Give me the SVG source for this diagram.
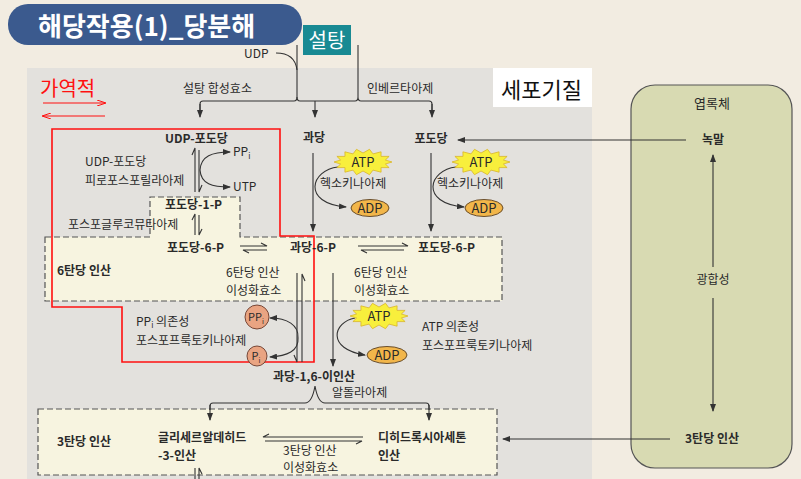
<svg xmlns="http://www.w3.org/2000/svg" width="801" height="479" viewBox="0 0 801 479">
<style>
text{font-family:"Noto Sans CJK KR","Noto Sans",sans-serif;fill:#2a2a2a;font-size:12px}
.b{font-weight:bold}
.c{text-anchor:middle}
.ln{fill:none;stroke:#333;stroke-width:1.1}
.arr{fill:none;stroke:#333;stroke-width:1.1;marker-end:url(#ah)}
.dash{fill:#f7f4e0;stroke:#555;stroke-width:1.2;stroke-dasharray:6 3}
.red{fill:none;stroke:#ff1010;stroke-width:1.6}
.star{fill:#f8ef3c;stroke:#d9b52a;stroke-width:0.8}
.adp{fill:#f2b64a;stroke:#5a4020;stroke-width:0.9}
.pc{fill:#e9a482;stroke:#6a3a2a;stroke-width:0.9}
</style>
<defs>
<marker id="ah" markerWidth="8" markerHeight="6" refX="7" refY="3" orient="auto" markerUnits="userSpaceOnUse"><path d="M0,0 L8,3 L0,6 z" fill="#333"/></marker>
<marker id="rh" markerWidth="9" markerHeight="6" refX="8" refY="3" orient="auto" markerUnits="userSpaceOnUse"><path d="M0,0 L9,3 L0,6" fill="none" stroke="#ff1010" stroke-width="1"/></marker>
<polygon id="starburst" class="star" points="29,0 22.4,2 26.1,5.6 18,5.6 18.1,10.2 10,8.1 6.5,12.7 0,9 -6.5,12.7 -10,8.1 -18.1,10.2 -18,5.6 -26.1,5.6 -22.4,2 -29,0 -22.4,-2 -26.1,-5.6 -18,-5.6 -18.1,-10.2 -10,-8.1 -6.5,-12.7 0,-9 6.5,-12.7 10,-8.1 18.1,-10.2 18,-5.6 26.1,-5.6 22.4,-2"/>
</defs>

<!-- background -->
<rect x="0" y="0" width="801" height="479" fill="#f2ece1"/>
<rect x="27" y="68" width="565" height="411" fill="#e3e1dd"/>

<!-- title -->
<g id="title">
<rect x="8" y="4" width="294" height="41" rx="20" fill="#3b5a8e"/>
<text x="38" y="36" style="font-size:26px;font-weight:bold;fill:#fff">해당작용(1)_당분해</text>
</g>
<g id="sucrose">
<rect x="303" y="25" width="48" height="30" fill="#198a93"/>
<text x="327" y="48" class="c" style="font-size:20px;fill:#fff">설탕</text>
</g>
<g id="cytosol-label">
<rect x="493" y="68" width="99" height="39" fill="#fff"/>
<text x="501" y="98" style="font-size:22px;fill:#111">세포기질</text>
</g>
<g id="reversible">
<text x="40" y="96" style="font-size:20px;fill:#ff1010">가역적</text>
<line x1="43" y1="103" x2="105" y2="103" stroke="#ff1010" stroke-width="1.2" marker-end="url(#rh)"/>
<line x1="105" y1="116" x2="43" y2="116" stroke="#ff1010" stroke-width="1.2" marker-end="url(#rh)"/>
</g>

<!-- boxes -->
<g id="hexose-box">
<path class="dash" d="M45,237 L150,237 L150,197 L240,197 L240,237 L502,237 L502,301 L45,301 Z"/>
<text x="57" y="275" class="b">6탄당 인산</text>
</g>
<g id="triose-box">
<rect class="dash" x="38" y="409" width="459" height="66"/>
<text x="57" y="446" class="b">3탄당 인산</text>
</g>
<g id="chloroplast">
<rect x="631" y="85" width="161" height="383" rx="24" fill="#d8dab2" stroke="#555" stroke-width="1.2"/>
<text x="712" y="108" class="c" style="font-size:13px">엽록체</text>
<text x="713" y="284" class="c">광합성</text>
</g>

<!-- red reversible region -->
<path class="red" d="M52,129 L280,129 L280,236 L314,236 L314,362 L122,362 L122,307 L52,307 Z"/>

<!-- connectors -->
<g id="connectors">
<path class="ln" d="M276,53 Q295,53 297,70"/>
<path class="ln" d="M297,45 L297,97"/>
<path class="ln" d="M358,45 L358,97"/>
<path class="ln" d="M297,97 Q297,101 300,101 L355,101 Q358,101 358,97 Q358,101 361,101 L429,101 Q432,101 432,104 L432,110"/>
<path class="ln" d="M297,97 Q297,101 294,101 L203,101 Q200,101 200,104 L200,110"/>
<path class="arr" d="M200,104 L200,117"/>
<path class="arr" d="M315,101 L315,117"/>
<path class="arr" d="M432,104 L432,117"/>

<!-- UDP-glucose eq -->
<path class="ln" d="M195,192 L195,148 L192,155"/>
<path class="ln" d="M199,150 L199,192 L202,185"/>
<path class="arr" d="M200,170 C201,156 212,152 230,152"/>
<path class="arr" d="M200,170 C201,184 212,187 230,187"/>
<!-- G1P -> G6P -->
<path class="ln" d="M195,235 L195,214 L192,220"/>
<path class="ln" d="M199,215 L199,235 L202,229"/>

<!-- fructose / glucose down -->
<path class="arr" d="M313,153 L313,231"/>
<path class="arr" d="M431,153 L431,231"/>
<path class="arr" d="M338,167 C311,170 301,203 346,207"/>
<path class="arr" d="M456,167 C429,170 419,203 464,207"/>

<!-- G6P eq F6P -->
<path class="ln" d="M240,246 L267,246 L261,243"/>
<path class="ln" d="M267,250 L243,250 L249,253"/>
<path class="ln" d="M358,246 L408,246 L402,243"/>
<path class="ln" d="M404,250 L361,250 L367,253"/>

<!-- F6P <-> F1,6BP (PPi) -->
<path class="ln" d="M297,273 L297,362 L294,355"/>
<path class="ln" d="M302,362 L302,274 L305,281"/>
<path class="arr" d="M298,338 C299,325 287,318 270,318"/>
<path class="arr" d="M298,338 C299,351 287,356 270,357"/>
<!-- PFK ATP -->
<path class="arr" d="M333,273 L333,366"/>
<path class="arr" d="M355,318 C333,322 326,349 365,355"/>

<!-- aldolase split -->
<path class="ln" d="M210,410 L210,406 Q210,403 213,403 L305,403 Q312,403 315,386 Q318,403 325,403 L426,403 Q429,403 429,406 L429,410"/>
<path class="arr" d="M210,405 L210,420"/>
<path class="arr" d="M429,405 L429,420"/>

<!-- triose eq -->
<path class="ln" d="M363,437 L263,437 L269,434"/>
<path class="ln" d="M265,441 L362,441 L356,444"/>
<path class="ln" d="M195,479 L195,468"/>
<path class="ln" d="M199,479 L199,468 L202,474"/>

<!-- chloroplast links -->
<path class="arr" d="M686,140 L458,140"/>
<path class="arr" d="M713,267 L713,155"/>
<path class="arr" d="M713,298 L713,411"/>
<path class="arr" d="M670,439 L503,439"/>
</g>

<!-- nodes -->
<g id="udp"><text x="244" y="58">UDP</text></g>
<g id="sucrose-synthase"><text x="183" y="93">설탕 합성효소</text></g>
<g id="invertase"><text x="367" y="93">인베르타아제</text></g>
<g id="udp-glucose"><text x="165" y="143" class="b">UDP-포도당</text></g>
<g id="udpg-ppase"><text x="85" y="166">UDP-포도당</text><text x="85" y="185">피로포스포릴라아제</text></g>
<g id="ppi"><text x="233" y="156">PP<tspan font-size="8" dy="3">i</tspan></text></g>
<g id="utp"><text x="233" y="191">UTP</text></g>
<g id="g1p"><text x="165" y="209" class="b">포도당-1-P</text></g>
<g id="pgm"><text x="68" y="229">포스포글루코뮤타아제</text></g>
<g id="fructose"><text x="314" y="142" class="c b">과당</text></g>
<g id="glucose"><text x="431" y="143" class="c b">포도당</text></g>
<g id="starch"><text x="713" y="144" class="c b">녹말</text></g>

<g id="hk1">
<use href="#starburst" x="363" y="162"/>
<text x="363" y="167" class="c" style="font-size:13px">ATP</text>
<ellipse class="adp" cx="370" cy="208" rx="19" ry="8.5"/>
<text x="370" y="213" class="c" style="font-size:13px">ADP</text>
<text x="320" y="188">헥소키나아제</text>
</g>
<g id="hk2">
<use href="#starburst" x="481" y="162"/>
<text x="481" y="167" class="c" style="font-size:13px">ATP</text>
<ellipse class="adp" cx="484" cy="208" rx="19" ry="8.5"/>
<text x="484" y="213" class="c" style="font-size:13px">ADP</text>
<text x="437" y="188">헥소키나아제</text>
</g>

<g id="g6p-left"><text x="167" y="252" class="b">포도당-6-P</text></g>
<g id="f6p"><text x="290" y="252" class="b">과당-6-P</text></g>
<g id="g6p-right"><text x="418" y="252" class="b">포도당-6-P</text></g>
<g id="hpi1"><text x="226" y="277">6탄당 인산</text><text x="226" y="295">이성화효소</text></g>
<g id="hpi2"><text x="354" y="277">6탄당 인산</text><text x="354" y="295">이성화효소</text></g>

<g id="ppi-pfk">
<text x="136" y="326">PP<tspan font-size="8" dy="2">i</tspan><tspan dy="-2"> 의존성</tspan></text>
<text x="136" y="345">포스포프룩토키나아제</text>
<circle class="pc" cx="257" cy="317" r="12"/>
<text x="256" y="321" class="c" style="font-size:11px">PP<tspan font-size="7" dy="3">i</tspan></text>
<circle class="pc" cx="257" cy="356" r="10"/>
<text x="256" y="360" class="c" style="font-size:11px">P<tspan font-size="7" dy="3">i</tspan></text>
</g>

<g id="atp-pfk">
<use href="#starburst" x="379" y="316"/>
<text x="379" y="321" class="c" style="font-size:13px">ATP</text>
<ellipse class="adp" cx="387" cy="355" rx="20" ry="8.5"/>
<text x="387" y="360" class="c" style="font-size:13px">ADP</text>
<text x="422" y="331">ATP 의존성</text>
<text x="422" y="350">포스포프룩토키나아제</text>
</g>

<g id="f16bp"><text x="273" y="381" class="b">과당-1,6-이인산</text></g>
<g id="aldolase"><text x="332" y="397">알돌라아제</text></g>
<g id="gap"><text x="158" y="442" class="b">글리세르알데히드</text><text x="158" y="460" class="b">-3-인산</text></g>
<g id="tpi"><text x="283" y="455">3탄당 인산</text><text x="283" y="472">이성화효소</text></g>
<g id="dhap"><text x="378" y="442" class="b">디히드록시아세톤</text><text x="378" y="460" class="b">인산</text></g>
<g id="triose-chloro"><text x="712" y="443" class="c b">3탄당 인산</text></g>
</svg>
